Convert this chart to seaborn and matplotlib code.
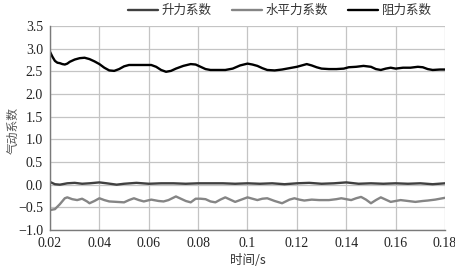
import numpy as np
import pandas as pd
import matplotlib
matplotlib.use("Agg")
import matplotlib.pyplot as plt
from matplotlib import font_manager
import seaborn as sns

# ---- data ----
drag_t = [0.020, 0.021, 0.022, 0.023, 0.024, 0.025, 0.026, 0.027, 0.028, 0.030, 0.032, 0.034,
          0.036, 0.038, 0.040, 0.042, 0.044, 0.046, 0.048, 0.050, 0.052, 0.055, 0.058, 0.061,
          0.063, 0.065, 0.067, 0.069, 0.071, 0.074, 0.077, 0.079, 0.081, 0.083, 0.085, 0.088,
          0.091, 0.094, 0.097, 0.100, 0.102, 0.104, 0.106, 0.108, 0.111, 0.114, 0.117, 0.120,
          0.122, 0.124, 0.126, 0.128, 0.130, 0.133, 0.136, 0.139, 0.141, 0.144, 0.147, 0.150,
          0.152, 0.154, 0.156, 0.158, 0.160, 0.163, 0.166, 0.169, 0.171, 0.173, 0.175, 0.178, 0.180]
drag_v = [2.93, 2.82, 2.73, 2.69, 2.68, 2.66, 2.65, 2.67, 2.71, 2.76, 2.79, 2.80,
          2.77, 2.72, 2.66, 2.58, 2.52, 2.51, 2.55, 2.61, 2.64, 2.64, 2.64, 2.64,
          2.60, 2.53, 2.49, 2.51, 2.56, 2.62, 2.66, 2.65, 2.60, 2.55, 2.53, 2.53,
          2.53, 2.56, 2.63, 2.67, 2.65, 2.62, 2.57, 2.53, 2.52, 2.54, 2.57, 2.60,
          2.63, 2.66, 2.63, 2.59, 2.56, 2.55, 2.55, 2.56, 2.59, 2.60, 2.62, 2.60,
          2.55, 2.53, 2.56, 2.58, 2.56, 2.58, 2.58, 2.60, 2.59, 2.55, 2.53, 2.54, 2.54]

horiz_t = [0.020, 0.022, 0.024, 0.026, 0.027, 0.029, 0.031, 0.033, 0.035, 0.036, 0.038, 0.040,
           0.042, 0.044, 0.047, 0.050, 0.052, 0.054, 0.056, 0.058, 0.061, 0.064, 0.066, 0.068,
           0.071, 0.073, 0.075, 0.077, 0.079, 0.081, 0.083, 0.085, 0.087, 0.089, 0.091, 0.093,
           0.095, 0.097, 0.100, 0.102, 0.104, 0.106, 0.108, 0.111, 0.114, 0.117, 0.119, 0.121,
           0.123, 0.126, 0.129, 0.133, 0.136, 0.138, 0.140, 0.142, 0.144, 0.146, 0.148, 0.150,
           0.152, 0.154, 0.156, 0.158, 0.160, 0.162, 0.165, 0.168, 0.171, 0.173, 0.176, 0.180]
horiz_v = [-0.56, -0.54, -0.43, -0.30, -0.28, -0.32, -0.34, -0.31, -0.37, -0.41, -0.36, -0.30,
           -0.34, -0.37, -0.38, -0.39, -0.34, -0.30, -0.34, -0.37, -0.33, -0.36, -0.37, -0.34,
           -0.26, -0.31, -0.36, -0.39, -0.31, -0.31, -0.32, -0.37, -0.39, -0.33, -0.28, -0.33,
           -0.38, -0.34, -0.28, -0.31, -0.34, -0.31, -0.30, -0.36, -0.41, -0.33, -0.30, -0.33,
           -0.35, -0.33, -0.34, -0.34, -0.32, -0.30, -0.32, -0.34, -0.30, -0.27, -0.33, -0.41,
           -0.34, -0.28, -0.33, -0.38, -0.36, -0.34, -0.36, -0.38, -0.36, -0.35, -0.33, -0.29]

lift_t = [0.020, 0.022, 0.024, 0.027, 0.030, 0.033, 0.036, 0.040, 0.043, 0.047, 0.050, 0.055,
          0.060, 0.065, 0.070, 0.075, 0.080, 0.085, 0.090, 0.095, 0.100, 0.105, 0.110, 0.115,
          0.120, 0.125, 0.130, 0.135, 0.140, 0.145, 0.150, 0.155, 0.160, 0.165, 0.170, 0.175, 0.180]
lift_v = [0.06, 0.01, 0.00, 0.03, 0.04, 0.02, 0.03, 0.05, 0.03, 0.00, 0.02, 0.04,
          0.02, 0.03, 0.03, 0.02, 0.03, 0.03, 0.03, 0.02, 0.03, 0.02, 0.03, 0.01,
          0.03, 0.04, 0.02, 0.03, 0.05, 0.02, 0.03, 0.02, 0.03, 0.02, 0.03, 0.01, 0.03]

series_names = ["升力系数", "水平力系数", "阻力系数"]
x_ticks = [0.02, 0.04, 0.06, 0.08, 0.1, 0.12, 0.14, 0.16, 0.18]
x_tick_labels = ["0.02", "0.04", "0.06", "0.08", "0.1", "0.12", "0.14", "0.16", "0.18"]
y_ticks = [-1.0, -0.5, 0.0, 0.5, 1.0, 1.5, 2.0, 2.5, 3.0, 3.5]

df = pd.concat([
    pd.DataFrame({"t": lift_t, "v": lift_v, "s": series_names[0]}),
    pd.DataFrame({"t": horiz_t, "v": horiz_v, "s": series_names[1]}),
    pd.DataFrame({"t": drag_t, "v": drag_v, "s": series_names[2]}),
], ignore_index=True)

sns.set_theme(style="white")
font_names = {f.name for f in font_manager.fontManager.ttflist}
serif = "Liberation Serif" if "Liberation Serif" in font_names else "DejaVu Serif"
plt.rcParams['font.family'] = [serif, 'Noto Sans CJK SC', 'DejaVu Sans']
plt.rcParams['axes.unicode_minus'] = True

fig = plt.figure(figsize=(4.56, 2.71), dpi=100)
ax = fig.add_axes([50/456, 1-230/271, 395/456, 204/271])

palette = {series_names[0]: "#404040", series_names[1]: "#858585", series_names[2]: "#000000"}
sns.lineplot(data=df, x="t", y="v", hue="s", hue_order=series_names, palette=palette,
             linewidth=1.7, ax=ax, legend=True, sort=True)

ax.set_xlim(0.02, 0.18)
ax.set_ylim(-1.0, 3.5)
ax.set_xticks(x_ticks)
ax.set_xticklabels(x_tick_labels, fontfamily=serif)
ax.set_yticks(y_ticks)
ax.set_yticklabels([f"{v:.1f}".replace("-", "\u2212") for v in y_ticks], fontfamily=[serif, 'DejaVu Sans'])
ax.tick_params(axis="both", length=0, labelsize=10, colors="#222222", pad=5)
ax.grid(True, color="#c4c4c4", linewidth=0.9)
ax.set_axisbelow(True)
for s in ["top", "right"]:
    ax.spines[s].set_visible(False)
for s in ["left", "bottom"]:
    ax.spines[s].set_color("#7a7a7a")
    ax.spines[s].set_linewidth(1.0)

cjk = ['Noto Sans CJK SC', 'DejaVu Sans']
ax.set_xlabel("时间/s", fontsize=9, family=['Noto Sans CJK SC', serif], color="#333333")
ax.xaxis.set_label_coords((248 - 50) / 395, (230 - 254) / 204)
ax.set_ylabel("气动系数", fontsize=8.5, family=cjk, color="#555555")
ax.yaxis.set_label_coords((20 - 50) / 395, (230 - 130) / 204)

leg = ax.legend(loc="lower center", bbox_to_anchor=((280 - 50) / 395, 1.02), ncol=3, frameon=False,
                handlelength=2.4, handletextpad=0.3, columnspacing=1.6,
                prop={'family': cjk, 'size': 9}, borderaxespad=0)
for txt in leg.get_texts():
    txt.set_color("#333333")

fig.savefig("out.png", dpi=100)
